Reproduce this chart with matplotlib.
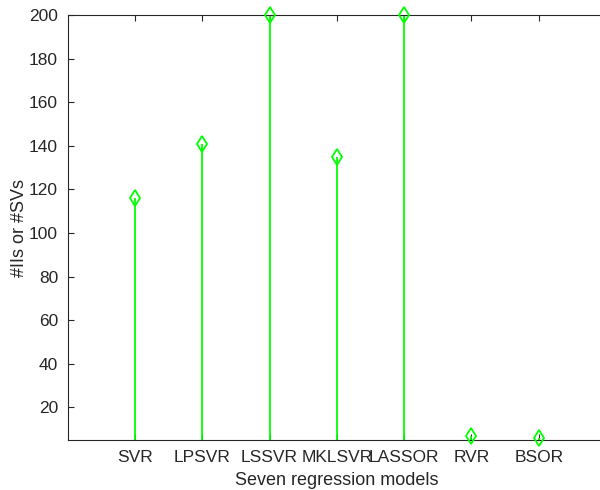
import matplotlib
matplotlib.use('Agg')
import matplotlib.pyplot as plt
import numpy as np

plt.rcParams['font.family'] = ['Liberation Sans', 'DejaVu Sans']

models = ['SVR', 'LPSVR', 'LSSVR', 'MKLSVR', 'LASSOR', 'RVR', 'BSOR']
counts = [116, 141, 200, 135, 200, 7, 6]
yticks = [20, 40, 60, 80, 100, 120, 140, 160, 180, 200]

fig = plt.figure(figsize=(6, 4.9), dpi=100)
ax = fig.add_axes([0.113, 0.102, 0.897, 0.867])

x = np.arange(1, len(models) + 1)
green = (0, 1, 0)
ax.vlines(x, 0, counts, color=green, lw=1.3)
ax.plot(x, counts, 'd', mfc='none', mec=green, ms=8, mew=1.3, clip_on=False, zorder=5)

ax.set_xlim(0, 8)
ax.set_ylim(5, 200)
ax.set_xticks(x)
ax.set_xticklabels(models)
ax.set_yticks(yticks)

txt = (0.15, 0.15, 0.15)
for s in ax.spines.values():
    s.set_color(txt)
    s.set_linewidth(0.8)
ax.spines['right'].set_visible(False)
ax.tick_params(direction='in', length=4, width=0.8, colors=txt, labelsize=12.5,
               top=True, right=False, pad=7)
ax.set_xlabel('Seven regression models', fontsize=13, color=txt, labelpad=5)
ax.set_ylabel('#IIs or #SVs', fontsize=13, color=txt, labelpad=1)

fig.savefig('out.png', dpi=100)
